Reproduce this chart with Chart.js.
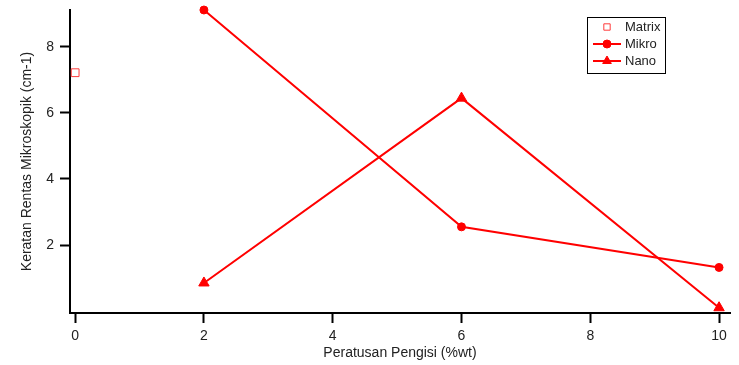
<!DOCTYPE html>
<html>
<head>
<meta charset="utf-8">
<script src="https://cdn.jsdelivr.net/npm/chart.js@4/dist/chart.umd.min.js"></script>
<style>
  html, body { margin: 0; padding: 0; background: #fff; }
  #wrap { width: 739px; height: 365px; position: relative; }
</style>
</head>
<body>
<div id="wrap"><canvas id="c" width="739" height="365"></canvas></div>
<script>
// Filler loading (%wt) and microscopic cross-section values
const matrixX = [0];
const matrixY = [7.22];
const mikroX = [2, 6, 10];
const mikroY = [9.12, 2.55, 1.32];
const nanoX = [2, 6, 10];
const nanoY = [0.85, 6.45, 0.1];
const xTickValues = [0, 2, 4, 6, 8, 10];
const yTickValues = [2, 4, 6, 8];

const RED = '#ff0000';
const FONT = 'Liberation Sans, Arial, sans-serif';

const pts = (xs, ys) => xs.map((x, i) => ({ x: x, y: ys[i] }));

// Boxed legend in the upper right, drawn on the canvas
const boxLegend = {
  id: 'boxLegend',
  afterDraw(chart) {
    const ctx = chart.ctx;
    const x0 = 587.5, y0 = 17.5, w = 78, h = 56;
    ctx.save();
    ctx.fillStyle = '#fff';
    ctx.fillRect(x0, y0, w, h);
    ctx.strokeStyle = '#000';
    ctx.lineWidth = 1;
    ctx.strokeRect(x0, y0, w, h);
    const rows = [27, 44, 61];
    const legendRadius = [4.5, 4, 5];
    chart.data.datasets.forEach((ds, i) => {
      const y = rows[i];
      if (ds.showLine) {
        ctx.strokeStyle = RED;
        ctx.lineWidth = 2;
        ctx.beginPath();
        ctx.moveTo(593, y);
        ctx.lineTo(621, y);
        ctx.stroke();
      }
      ctx.fillStyle = ds.pointBackgroundColor;
      ctx.strokeStyle = ds.pointBorderColor;
      ctx.lineWidth = ds.pointBorderWidth;
      Chart.helpers.drawPoint(ctx, {
        pointStyle: ds.pointStyle,
        radius: legendRadius[i],
        rotation: 0,
        borderWidth: ds.pointBorderWidth
      }, 607, y);
      ctx.fillStyle = '#222';
      ctx.font = '13px ' + FONT;
      ctx.textAlign = 'left';
      ctx.textBaseline = 'middle';
      ctx.fillText(ds.label, 625, y);
    });
    ctx.restore();
  }
};

new Chart(document.getElementById('c'), {
  type: 'scatter',
  data: {
    datasets: [
      {
        label: 'Matrix',
        data: pts(matrixX, matrixY),
        showLine: false,
        pointStyle: 'rect',
        pointRadius: 5.5,
        pointBorderWidth: 1,
        pointBorderColor: '#ff3b3b',
        pointBackgroundColor: '#ffffff',
        borderColor: RED,
        backgroundColor: '#ffffff'
      },
      {
        label: 'Mikro',
        data: pts(mikroX, mikroY),
        showLine: true,
        borderColor: RED,
        borderWidth: 2,
        pointStyle: 'circle',
        pointRadius: 4,
        pointBorderWidth: 1,
        pointBorderColor: RED,
        pointBackgroundColor: RED,
        backgroundColor: RED
      },
      {
        label: 'Nano',
        data: pts(nanoX, nanoY),
        showLine: true,
        borderColor: RED,
        borderWidth: 2,
        pointStyle: 'triangle',
        pointRadius: 6,
        pointBorderWidth: 1,
        pointBorderColor: RED,
        pointBackgroundColor: RED,
        backgroundColor: RED
      }
    ]
  },
  options: {
    responsive: false,
    animation: false,
    clip: false,
    layout: { padding: { top: 10, right: 9, left: 0, bottom: 0 } },
    plugins: {
      legend: { display: false },
      tooltip: { enabled: false }
    },
    scales: {
      x: {
        type: 'linear',
        min: -0.08,
        max: 10.17,
        afterBuildTicks(scale) { scale.ticks = xTickValues.map(v => ({ value: v })); },
        afterFit(scale) { scale.height = 52; scale.paddingLeft = 0; scale.paddingRight = 0; },
        border: { display: true, color: '#000', width: 2 },
        grid: { drawOnChartArea: false, drawTicks: true, tickLength: 10, tickWidth: 2, color: '#000' },
        ticks: { color: '#222', font: { family: FONT, size: 14 }, padding: 5, maxRotation: 0 },
        title: { display: true, text: 'Peratusan Pengisi (%wt)', color: '#222', font: { family: FONT, size: 14 }, padding: { top: 0, bottom: 3 } }
      },
      y: {
        type: 'linear',
        min: -0.06,
        max: 9.12,
        afterBuildTicks(scale) { scale.ticks = yTickValues.map(v => ({ value: v })); },
        afterFit(scale) { scale.width = 70; scale.paddingTop = 0; scale.paddingBottom = 0; },
        border: { display: true, color: '#000', width: 2 },
        grid: { drawOnChartArea: false, drawTicks: true, tickLength: 10, tickWidth: 2, color: '#000' },
        ticks: { color: '#222', font: { family: FONT, size: 14 }, padding: 6 },
        title: { display: true, text: 'Keratan Rentas Mikroskopik (cm-1)', color: '#222', font: { family: FONT, size: 14 }, padding: { top: 19, bottom: 0 } }
      }
    }
  },
  plugins: [boxLegend]
});
</script>
</body>
</html>
